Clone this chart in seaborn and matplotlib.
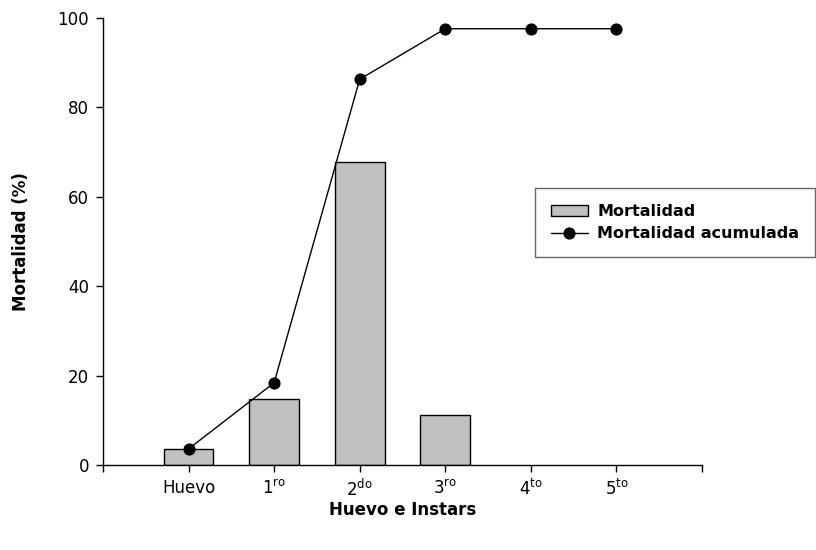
import numpy as np
import pandas as pd
import matplotlib
matplotlib.use("Agg")
import matplotlib.pyplot as plt
import seaborn as sns

etapas = ["Huevo", "1ro", "2do", "3ro", "4to", "5to"]
etiquetas = ["Huevo", "1$^{ro}$", "2$^{do}$", "3$^{ro}$", "4$^{to}$", "5$^{to}$"]
mortalidad = [3.6, 14.8, 67.8, 11.2, 0.0, 0.0]
acumulada = [3.6, 18.4, 86.3, 97.6, 97.6, 97.6]

df = pd.DataFrame({"etapa": etapas, "pos": np.arange(len(etapas)),
                   "mortalidad": mortalidad, "acumulada": acumulada})

sns.set_style("ticks")
plt.rcParams["font.family"] = ["DejaVu Sans"]
plt.rcParams["mathtext.default"] = "regular"
plt.rcParams["text.color"] = "black"
plt.rcParams["axes.labelcolor"] = "black"
plt.rcParams["xtick.color"] = "black"
plt.rcParams["ytick.color"] = "black"

fig = plt.figure(figsize=(8.16, 5.5), dpi=100)
ax = fig.add_axes([103 / 816, 1 - 465 / 550, 599 / 816, 447 / 550])

sns.barplot(data=df, x="etapa", y="mortalidad", color="#c0c0c0", saturation=1,
            edgecolor="black", linewidth=1, width=0.58, ax=ax, label="Mortalidad")
# las barras con altura cero no se ven en el original
for p in ax.patches:
    if p.get_height() == 0:
        p.set_visible(False)
sns.lineplot(data=df, x="pos", y="acumulada", color="black", marker="o",
             markersize=8, markeredgecolor="black", linewidth=1, ax=ax,
             label="Mortalidad acumulada")

ax.set_xlim(-1, 6)
ax.set_ylim(0, 100)
ax.set_xticks(np.arange(-1, 7))
ax.set_xticklabels([""] + etiquetas + [""])
ax.set_yticks(np.arange(0, 101, 20))
ax.tick_params(axis="both", labelsize=12, length=5, width=1)
ax.tick_params(axis="x", pad=5)
ax.tick_params(axis="y", pad=5)
for side in ["top", "right"]:
    ax.spines[side].set_visible(False)
for side in ["left", "bottom"]:
    ax.spines[side].set_linewidth(1)
    ax.spines[side].set_color("black")

ax.set_xlabel("Huevo e Instars", fontsize=12, fontweight="bold", labelpad=1)
ax.set_ylabel("Mortalidad (%)", fontsize=12, fontweight="bold", labelpad=20)

handles, labels = ax.get_legend_handles_labels()
orden = [labels.index("Mortalidad"), labels.index("Mortalidad acumulada")]
leg = ax.legend([handles[i] for i in orden], [labels[i] for i in orden],
                loc="upper left", bbox_to_anchor=(535 / 816, 1 - 188 / 550),
                bbox_transform=fig.transFigure, frameon=True, fancybox=False,
                edgecolor="#404040", prop={"weight": "bold", "size": 11.5},
                handlelength=2.3, borderpad=1.0, labelspacing=0.45,
                handletextpad=0.6, borderaxespad=0)
leg.get_frame().set_linewidth(1)

fig.savefig("out.png", dpi=100)
